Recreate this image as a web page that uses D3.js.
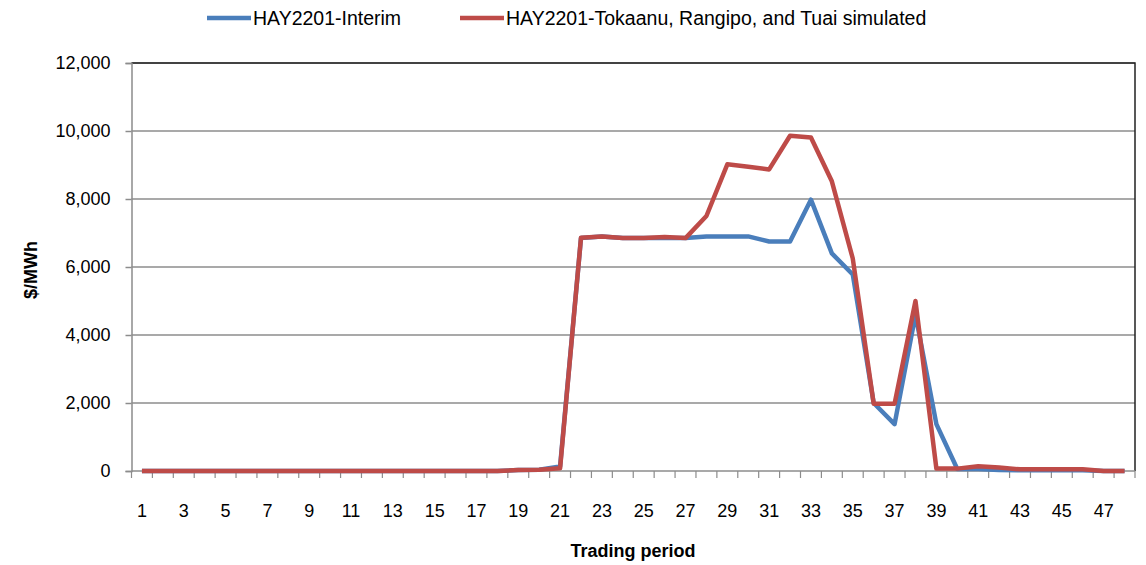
<!DOCTYPE html>
<html>
<head>
<meta charset="utf-8">
<script src="https://cdn.jsdelivr.net/npm/d3@7"></script>
<style>
  body { margin: 0; background: #fff; }
  text { font-family: "Liberation Sans", sans-serif; fill: #000; }
</style>
</head>
<body>
<svg id="chart" width="1146" height="565"></svg>
<script>
let periods = d3.range(1, 49);
let interim = [0, 0, 0, 0, 0, 0, 0, 0, 0, 0, 0, 0, 0, 0, 0, 0, 0, 0,
    30, 40, 130, 6850, 6900, 6850, 6850, 6850, 6850, 6900, 6900, 6900,
    6750, 6750, 7980, 6400, 5780, 2000, 1380, 4600, 1380, 60,
    60, 30, 20, 20, 20, 20, 0, 0];
let simulated = [0, 0, 0, 0, 0, 0, 0, 0, 0, 0, 0, 0, 0, 0, 0, 0, 0, 0,
    30, 40, 80, 6860, 6900, 6850, 6850, 6880, 6850, 7500, 9020, 8950,
    8870, 9860, 9810, 8520, 6250, 1980, 1980, 5000, 70, 70,
    140, 100, 50, 50, 50, 50, 0, 0];
let yTicks = [0, 2000, 4000, 6000, 8000, 10000, 12000];
let seriesNames = ["HAY2201-Interim", "HAY2201-Tokaanu, Rangipo, and Tuai simulated"];
let seriesColors = ["#4a7ebb", "#be4b48"];

let svg = d3.select("#chart");
let pLeft = 131.5, pRight = 1135, pTop = 63, pBottom = 471;

let xscale = d3.scaleBand(periods, [pLeft, pRight]);
let yscale = d3.scaleLinear([0, 12000], [pBottom, pTop]);

// gridlines
svg.append("g")
    .selectAll("line")
    .data(yTicks.slice(1))
    .enter()
    .append("line")
    .attr("x1", pLeft)
    .attr("x2", pRight)
    .attr("y1", d => yscale(d))
    .attr("y2", d => yscale(d))
    .attr("stroke", "#8c8c8c")
    .attr("stroke-width", 1.5);

// plot frame top / right
svg.append("path")
    .attr("d", "M" + pLeft + "," + pTop + "H" + pRight + "V" + pBottom)
    .attr("fill", "none")
    .attr("stroke", "#222")
    .attr("stroke-width", 1.5);

// y axis
let yAxis = svg.append("g")
    .attr("transform", "translate(" + pLeft + ",0)")
    .call(d3.axisLeft(yscale).tickValues(yTicks).tickSize(6).tickPadding(15).tickFormat(d3.format(",")));
yAxis.select(".domain").attr("stroke", "#8c8c8c").attr("stroke-width", 1.5);
yAxis.selectAll(".tick line").attr("stroke", "#8c8c8c").attr("stroke-width", 1.5);
yAxis.selectAll("text").attr("font-size", 18).attr("font-family", null).attr("fill", "#000");

// x axis with ticks between categories
let xAxis = svg.append("g")
    .attr("transform", "translate(0," + pBottom + ")");
xAxis.append("line")
    .attr("x1", pLeft).attr("x2", pRight)
    .attr("stroke", "#8c8c8c").attr("stroke-width", 1.5);
xAxis.selectAll(".xtick")
    .data(periods.concat([49]))
    .enter()
    .append("line")
    .attr("class", "xtick")
    .attr("x1", d => d === 49 ? pRight : xscale(d))
    .attr("x2", d => d === 49 ? pRight : xscale(d))
    .attr("y1", 0).attr("y2", 7)
    .attr("stroke", "#8c8c8c").attr("stroke-width", 1.2);
xAxis.selectAll(".xlab")
    .data(periods.filter(d => d % 2 === 1))
    .enter()
    .append("text")
    .attr("class", "xlab")
    .attr("x", d => xscale(d) + xscale.bandwidth() / 2)
    .attr("y", 46)
    .attr("text-anchor", "middle")
    .attr("font-size", 18)
    .text(d => d);

// axis titles
svg.append("text")
    .attr("x", 633).attr("y", 557)
    .attr("text-anchor", "middle")
    .attr("font-size", 18).attr("font-weight", "bold")
    .text("Trading period");
svg.append("text")
    .attr("transform", "translate(37,270) rotate(-90)")
    .attr("text-anchor", "middle")
    .attr("font-size", 18).attr("font-weight", "bold")
    .text("$/MWh");

// lines
let line = d3.line()
    .x((d, i) => xscale(periods[i]) + xscale.bandwidth() / 2)
    .y(d => yscale(d))
    .curve(d3.curveLinear);

[interim, simulated].forEach((s, i) => {
    svg.append("path")
        .datum(s)
        .attr("d", line)
        .attr("fill", "none")
        .attr("stroke", seriesColors[i])
        .attr("stroke-width", 4.5)
        .attr("stroke-linejoin", "round");
});

// legend
let legendX = [207, 460];
seriesNames.forEach((n, i) => {
    svg.append("line")
        .attr("x1", legendX[i]).attr("x2", legendX[i] + 44)
        .attr("y1", 18).attr("y2", 18)
        .attr("stroke", seriesColors[i]).attr("stroke-width", 4.5);
    svg.append("text")
        .attr("x", legendX[i] + 46).attr("y", 25)
        .attr("font-size", 19.5)
        .text(n);
});
</script>
</body>
</html>
